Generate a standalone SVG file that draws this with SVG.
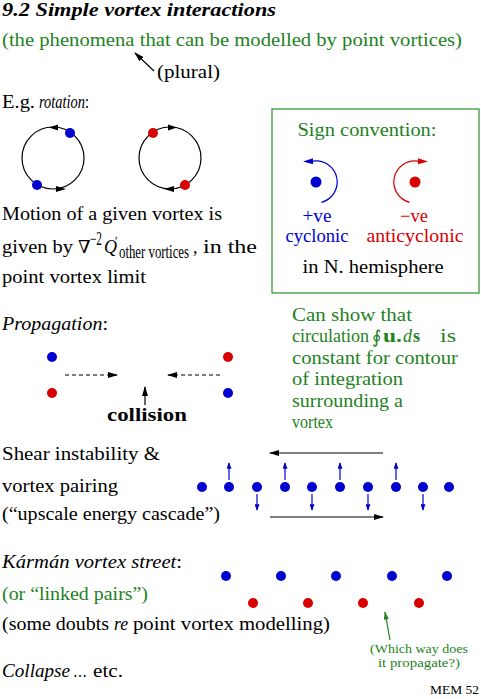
<svg xmlns="http://www.w3.org/2000/svg" width="481" height="699" viewBox="0 0 481 699">
<style>
text{font-family:"Liberation Serif","DejaVu Serif",serif;font-size:18px;fill:#000}
.g{fill:#1e821e}
.b{fill:#0000d0}
.r{fill:#d80000}
.i{font-style:italic}
.n{font-style:normal}
.bd{font-weight:bold}
.sm{font-size:12px}
.ln{stroke:#000;stroke-width:1.2;fill:none}
.bdot{fill:#0000d0}
.rdot{fill:#d80000}
</style>
<defs>
<marker id="ah" viewBox="0 0 10 6" refX="9" refY="3" markerWidth="10" markerHeight="6" markerUnits="userSpaceOnUse" orient="auto"><path d="M0,0 L10,3 L0,6 z" fill="#000"/></marker>
<marker id="ahb" viewBox="0 0 8 6" refX="7" refY="3" markerWidth="7" markerHeight="5" markerUnits="userSpaceOnUse" orient="auto"><path d="M0,0 L8,3 L0,6 z" fill="#0000d0"/></marker>
<marker id="ahg" viewBox="0 0 10 6" refX="9" refY="3" markerWidth="9" markerHeight="5" markerUnits="userSpaceOnUse" orient="auto"><path d="M0,0 L10,3 L0,6 z" fill="#1e821e"/></marker>
</defs>

<g id="title">
<text x="2" y="16" class="i bd" font-size="18" textLength="274" lengthAdjust="spacingAndGlyphs">9.2 Simple vortex interactions</text>
<text x="2" y="46" class="g" textLength="460" lengthAdjust="spacingAndGlyphs">(the phenomena that can be modelled by point vortices)</text>
<text x="157" y="78" textLength="63" lengthAdjust="spacingAndGlyphs">(plural)</text>
</g>

<g id="rotation">
<text x="2" y="108" textLength="33" lengthAdjust="spacingAndGlyphs">E.g.</text>
<text x="39" y="108" class="i" font-size="19" textLength="50" lengthAdjust="spacingAndGlyphs">rotation<tspan class="n">:</tspan></text>
<circle cx="53" cy="158" r="31" class="ln"/>
<path d="M49,127.5 L58,124.5 L58,130.5 z"/>
<path d="M66,189 L56,186 L56,192 z"/>
<circle cx="70" cy="133" r="5" class="bdot"/>
<circle cx="37" cy="185" r="5" class="bdot"/>
<circle cx="170" cy="158" r="31" class="ln"/>
<path d="M177,127.5 L168,124.5 L168,130.5 z"/>
<path d="M164,189 L174,186 L174,192 z"/>
<circle cx="153" cy="133" r="5" class="rdot"/>
<circle cx="185" cy="185" r="5" class="rdot"/>
</g>

<g id="motion">
<text x="2" y="220" textLength="220" lengthAdjust="spacingAndGlyphs">Motion of a given vortex is</text>
<text x="2" y="253" textLength="71" lengthAdjust="spacingAndGlyphs">given by</text>
<text x="78" y="253">∇</text>
<text x="90" y="245" font-size="12" textLength="12" lengthAdjust="spacingAndGlyphs">−2</text>
<text x="104" y="253" class="i">Q<tspan class="n" font-size="12" dx="-2" dy="-8">′</tspan></text>
<text x="119" y="258" font-size="12" textLength="70" lengthAdjust="spacingAndGlyphs">other vortices</text>
<text x="193" y="253">,</text>
<text x="203" y="253" textLength="54" lengthAdjust="spacingAndGlyphs">in the</text>
<text x="2" y="283" textLength="144" lengthAdjust="spacingAndGlyphs">point vortex limit</text>
</g>

<g id="sign-box">
<rect x="272" y="109" width="207" height="184" fill="none" stroke="#3c963c" stroke-width="1.3"/>
<text x="367" y="136" class="g" text-anchor="middle" textLength="139" lengthAdjust="spacingAndGlyphs">Sign convention:</text>
<circle cx="316" cy="182" r="5.5" class="bdot"/>
<path d="M321.4,202.3 A21,21 0 0 0 313,161.2" fill="none" stroke="#0000d0" stroke-width="1.2"/>
<path d="M303,161.5 L313,158.3 L313,164.3 z" fill="#0000d0"/>
<circle cx="415" cy="182" r="5.5" class="rdot"/>
<path d="M409.6,202.3 A21,21 0 0 1 418,161.2" fill="none" stroke="#d80000" stroke-width="1.2"/>
<path d="M428,161.5 L418,158.3 L418,164.3 z" fill="#d80000"/>
<text x="317" y="222" class="b" text-anchor="middle" textLength="29" lengthAdjust="spacingAndGlyphs">+ve</text>
<text x="317" y="242" class="b" text-anchor="middle" textLength="63" lengthAdjust="spacingAndGlyphs">cyclonic</text>
<text x="414" y="222" class="r" text-anchor="middle" textLength="28" lengthAdjust="spacingAndGlyphs">−ve</text>
<text x="415" y="242" class="r" text-anchor="middle" textLength="97" lengthAdjust="spacingAndGlyphs">anticyclonic</text>
<text x="373" y="273" text-anchor="middle" textLength="141" lengthAdjust="spacingAndGlyphs">in N. hemisphere</text>
</g>

<g id="propagation">
<text x="2" y="330" class="i" textLength="106" lengthAdjust="spacingAndGlyphs">Propagation<tspan class="n">:</tspan></text>
<circle cx="52" cy="357" r="5" class="bdot"/>
<circle cx="52" cy="393" r="5" class="rdot"/>
<circle cx="228" cy="357" r="5" class="rdot"/>
<circle cx="228" cy="393" r="5" class="bdot"/>
<text x="147" y="421" class="bd" text-anchor="middle" textLength="80" lengthAdjust="spacingAndGlyphs">collision</text>
</g>

<g id="circulation-note">
<text x="292" y="321" class="g" textLength="120" lengthAdjust="spacingAndGlyphs">Can show that</text>
<text x="292" y="342" class="g" textLength="77" lengthAdjust="spacingAndGlyphs">circulation</text>
<text x="372" y="343" class="g" font-size="16">∮</text>
<text x="383" y="342" class="g bd" textLength="19" lengthAdjust="spacingAndGlyphs">u.</text>
<text x="403" y="342" class="g i">d</text>
<text x="413" y="342" class="g bd">s</text>
<text x="440" y="342" class="g" textLength="16" lengthAdjust="spacingAndGlyphs">is</text>
<text x="292" y="364" class="g" textLength="166" lengthAdjust="spacingAndGlyphs">constant for contour</text>
<text x="292" y="385" class="g" textLength="111" lengthAdjust="spacingAndGlyphs">of integration</text>
<text x="292" y="407" class="g" textLength="111" lengthAdjust="spacingAndGlyphs">surrounding a</text>
<text x="292" y="428" class="g" textLength="41" lengthAdjust="spacingAndGlyphs">vortex</text>
</g>

<g id="shear">
<text x="2" y="460" textLength="158" lengthAdjust="spacingAndGlyphs">Shear instability &amp;</text>
<text x="2" y="492" textLength="116" lengthAdjust="spacingAndGlyphs">vortex pairing</text>
<text x="2" y="520" textLength="218" lengthAdjust="spacingAndGlyphs">(“upscale energy cascade”)</text>
<g class="bdot">
<circle cx="202" cy="487" r="5"/>
<circle cx="229" cy="487" r="5"/>
<circle cx="257" cy="487" r="5"/>
<circle cx="285" cy="487" r="5"/>
<circle cx="312" cy="487" r="5"/>
<circle cx="340" cy="487" r="5"/>
<circle cx="368" cy="487" r="5"/>
<circle cx="396" cy="487" r="5"/>
<circle cx="423" cy="487" r="5"/>
<circle cx="449" cy="487" r="5"/>
</g>
</g>

<g id="karman">
<text x="2" y="568" class="i" textLength="180" lengthAdjust="spacingAndGlyphs">Kármán vortex street<tspan class="n">:</tspan></text>
<text x="2" y="600" class="g" textLength="146" lengthAdjust="spacingAndGlyphs">(or “linked pairs”)</text>
<text x="2" y="630" textLength="107" lengthAdjust="spacingAndGlyphs">(some doubts</text>
<text x="114" y="630" class="i" textLength="14" lengthAdjust="spacingAndGlyphs">re</text>
<text x="133" y="630" textLength="197" lengthAdjust="spacingAndGlyphs">point vortex modelling)</text>
<g class="bdot">
<circle cx="226" cy="576" r="5"/>
<circle cx="281" cy="576" r="5"/>
<circle cx="336" cy="576" r="5"/>
<circle cx="392" cy="576" r="5"/>
<circle cx="447" cy="576" r="5"/>
</g>
<g class="rdot">
<circle cx="253" cy="603" r="5"/>
<circle cx="308" cy="603" r="5"/>
<circle cx="363" cy="603" r="5"/>
<circle cx="419" cy="603" r="5"/>
</g>
<text x="419" y="653" class="g sm" text-anchor="middle" textLength="98" lengthAdjust="spacingAndGlyphs">(Which way does</text>
<text x="419" y="667" class="g sm" text-anchor="middle" textLength="82" lengthAdjust="spacingAndGlyphs">it propagate?)</text>
</g>

<g id="collapse">
<text x="2" y="677" class="i" textLength="68" lengthAdjust="spacingAndGlyphs">Collapse</text>
<text x="73" y="677" textLength="14" lengthAdjust="spacingAndGlyphs">…</text>
<text x="93" y="677" textLength="30" lengthAdjust="spacingAndGlyphs">etc.</text>
<text x="479" y="694" class="sm" text-anchor="end" textLength="49" lengthAdjust="spacingAndGlyphs">MEM 52</text>
</g>

<g id="connectors">
<line x1="154" y1="71" x2="135" y2="53" class="ln" marker-end="url(#ah)"/>
<line x1="65" y1="375" x2="117" y2="375" class="ln" stroke-dasharray="4,3" marker-end="url(#ah)"/>
<line x1="220" y1="375" x2="168" y2="375" class="ln" stroke-dasharray="4,3" marker-end="url(#ah)"/>
<line x1="145" y1="405" x2="145" y2="387" class="ln" marker-end="url(#ah)"/>
<line x1="383" y1="453" x2="270" y2="453" class="ln" marker-end="url(#ah)"/>
<line x1="270" y1="517" x2="383" y2="517" class="ln" marker-end="url(#ah)"/>
<g stroke="#0000d0" stroke-width="1.2" marker-end="url(#ahb)">
<line x1="229" y1="480" x2="229" y2="463"/>
<line x1="285" y1="480" x2="285" y2="463"/>
<line x1="340" y1="480" x2="340" y2="463"/>
<line x1="396" y1="480" x2="396" y2="463"/>
<line x1="257" y1="494" x2="257" y2="510"/>
<line x1="312" y1="494" x2="312" y2="510"/>
<line x1="368" y1="494" x2="368" y2="510"/>
<line x1="423" y1="494" x2="423" y2="510"/>
</g>
<line x1="390" y1="640" x2="385" y2="612" stroke="#1e821e" stroke-width="1.2" marker-end="url(#ahg)"/>
</g>
</svg>
